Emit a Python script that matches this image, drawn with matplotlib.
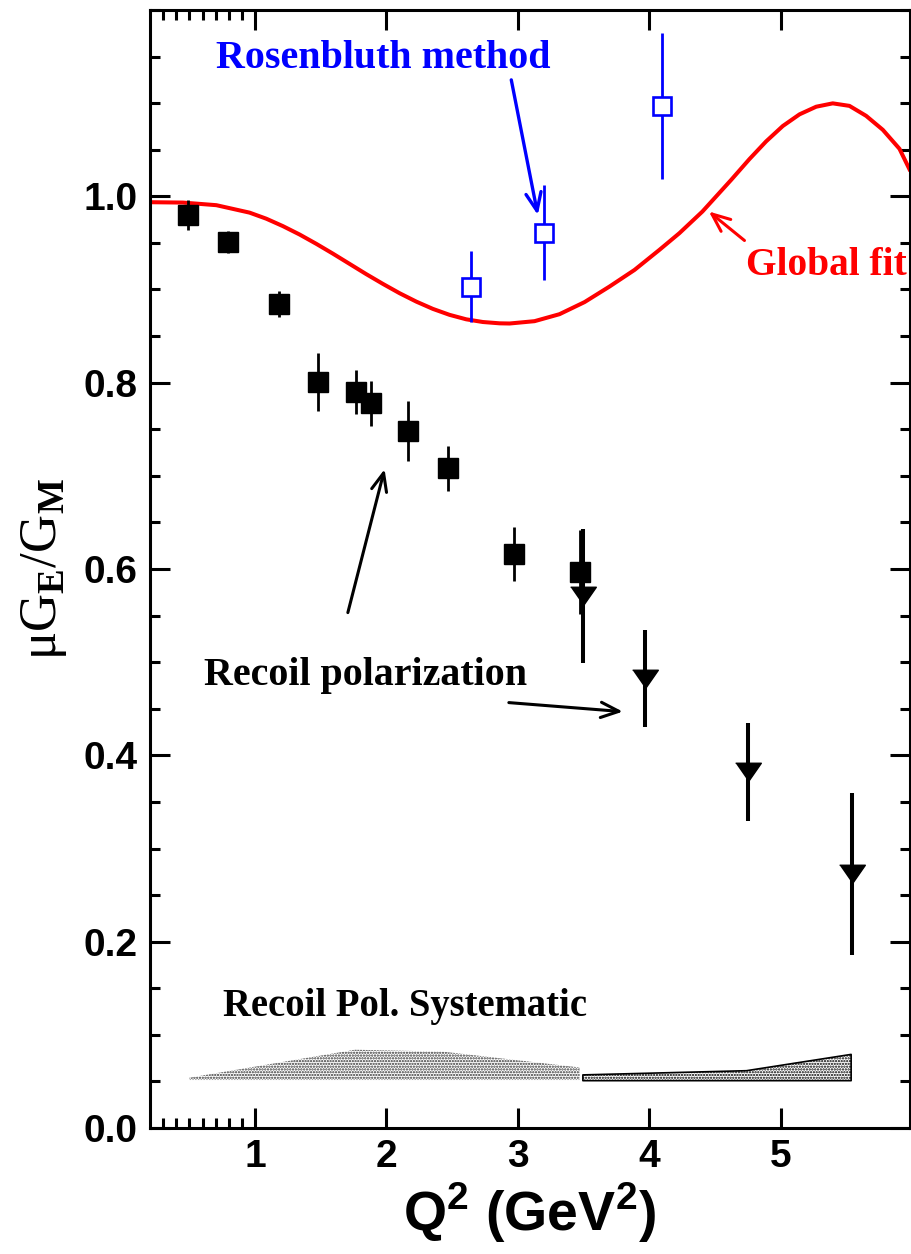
import numpy as np
import matplotlib
matplotlib.use("Agg")
import matplotlib.pyplot as plt
import matplotlib.ticker as mtick

#_________________________________________
# DATA
#_________________________________________
# recoil polarization, first set (filled squares)
rp_q2 = [0.49, 0.79, 1.18, 1.48, 1.765, 1.88, 2.165, 2.47, 2.97, 3.47]
rp_ratio = [0.980, 0.951, 0.884, 0.801, 0.790, 0.778, 0.748, 0.708, 0.616, 0.597]
rp_err = [0.016, 0.012, 0.014, 0.031, 0.024, 0.024, 0.032, 0.024, 0.029, 0.045]

# recoil polarization, second set (filled down triangles)
rp2_q2 = [3.495, 3.97, 4.75, 5.54]
rp2_ratio = [0.571, 0.482, 0.382, 0.273]
rp2_err = [0.072, 0.052, 0.053, 0.087]

# Rosenbluth points (open blue squares)
ros_q2 = [2.64, 3.20, 4.10]
ros_ratio = [0.903, 0.961, 1.097]
ros_err = [0.038, 0.051, 0.078]

# global fit curve
fit_q2 = [0.197, 0.451, 0.705, 0.958, 1.085, 1.212, 1.339, 1.466, 1.592, 1.719,
          1.846, 1.973, 2.100, 2.227, 2.353, 2.480, 2.607, 2.734, 2.861, 2.937,
          3.127, 3.317, 3.508, 3.698, 3.888, 4.078, 4.230, 4.405, 4.624, 4.763,
          4.890, 5.017, 5.144, 5.271, 5.397, 5.524, 5.651, 5.778, 5.905, 5.981]
fit_ratio = [0.9937, 0.9933, 0.9905, 0.9825, 0.9760, 0.9680, 0.9590, 0.9490, 0.9385,
             0.9275, 0.9165, 0.9060, 0.8960, 0.8870, 0.8792, 0.8728, 0.8680, 0.8651,
             0.8637, 0.8635, 0.8660, 0.8735, 0.8865, 0.9032, 0.9210, 0.9426, 0.9605,
             0.9837, 1.0177, 1.0400, 1.0590, 1.0755, 1.0880, 1.0962, 1.0998, 1.0971,
             1.0864, 1.0714, 1.0510, 1.0290]

# systematic error bands
sys1_q2 = [0.50, 1.76, 2.43, 3.47]
sys1_top = [0.054, 0.084, 0.082, 0.065]
sys1_bot = [0.0515, 0.0515, 0.0515, 0.0515]
sys2_q2 = [3.495, 4.74, 5.537]
sys2_top = [0.057, 0.0615, 0.079]
sys2_bot = [0.0508, 0.0508, 0.0508]

x_major = [1, 2, 3, 4, 5]
x_minor = [0.3, 0.4, 0.5, 0.6, 0.7, 0.8, 0.9]
y_major = [0.0, 0.2, 0.4, 0.6, 0.8, 1.0]

#_________________________________________
# STYLE
#_________________________________________
plt.rcParams["font.family"] = "Liberation Sans"
plt.rcParams["font.weight"] = "bold"
plt.rcParams["mathtext.fontset"] = "custom"
plt.rcParams["mathtext.rm"] = "Liberation Serif"
plt.rcParams["mathtext.bf"] = "Liberation Sans:bold"
plt.rcParams["hatch.linewidth"] = 1.1

fig = plt.figure(figsize=(9.11, 12.54), dpi=100)
ax = fig.add_axes([150/911, 126/1254, 760/911, 1118/1254])

# global fit
ax.plot(fit_q2, fit_ratio, color="red", lw=2.9, zorder=2, solid_joinstyle="round")

# systematic bands
ax.fill_between(sys1_q2, sys1_bot, sys1_top, facecolor="white", edgecolor="#333333",
                hatch="......", lw=0, zorder=1)
ax.fill_between(sys2_q2, sys2_bot, sys2_top, facecolor="white", edgecolor="black",
                hatch="......", lw=1.2, zorder=1)

# data
ax.errorbar(rp_q2, rp_ratio, yerr=rp_err, fmt="s", ms=15, color="black",
            elinewidth=2.0, capsize=0, zorder=4)
tri = [(-1, 0.72), (1, 0.72), (0, -0.72)]
ax.errorbar(rp2_q2, rp2_ratio, yerr=rp2_err, fmt="none", ecolor="black",
            elinewidth=2.9, capsize=0, zorder=4)
ax.plot(rp2_q2, rp2_ratio, ls="none", marker=tri, ms=18.5, color="black", zorder=5)
ax.errorbar(ros_q2, ros_ratio, yerr=ros_err, fmt="none", ecolor="blue",
            elinewidth=2.0, capsize=0, zorder=4)
ax.plot(ros_q2, ros_ratio, ls="none", marker="s", ms=12.5, mfc="white", mec="blue",
        mew=1.9, zorder=5)

# annotations
serif = dict(family="Liberation Serif", weight="bold")
head = "->,head_length=1.3,head_width=0.55"
ax.text(0.699, 1.1376, "Rosenbluth method", color="blue", fontsize=28.8, **serif)
ax.annotate("", xy=(3.152, 0.980), xytext=(2.950, 1.125),
            arrowprops=dict(arrowstyle=head, color="blue", lw=2.4, shrinkA=0, shrinkB=0))
ax.text(4.738, 0.9155, "Global fit", color="red", fontsize=28.4, **serif)
ax.annotate("", xy=(4.454, 0.9837), xytext=(4.725, 0.9526),
            arrowprops=dict(arrowstyle=head, color="red", lw=2.2, shrinkA=0, shrinkB=0))
ax.text(0.608, 0.4756, "Recoil polarization", color="black", fontsize=28.8, **serif)
ax.annotate("", xy=(1.9855, 0.7071), xytext=(1.706, 0.5532),
            arrowprops=dict(arrowstyle=head, color="black", lw=2.2, shrinkA=0, shrinkB=0))
ax.annotate("", xy=(3.799, 0.4469), xytext=(2.9315, 0.4566),
            arrowprops=dict(arrowstyle=head, color="black", lw=2.2, shrinkA=0, shrinkB=0))
ax.text(0.7527, 0.1202, "Recoil Pol. Systematic", color="black", fontsize=27.8, **serif)

# axes
ax.set_xlim(0.2, 5.985)
ax.set_ylim(0.0, 1.2)
ax.set_xticks(x_major)
ax.set_xticks(x_minor, minor=True)
ax.set_yticks(y_major)
ax.yaxis.set_minor_locator(mtick.MultipleLocator(0.05))
ax.xaxis.set_major_formatter(mtick.FormatStrFormatter("%d"))
ax.yaxis.set_major_formatter(mtick.FormatStrFormatter("%.1f"))
ax.tick_params(which="both", direction="in", top=True, right=True, width=2.2,
               labelsize=28, pad=9)
ax.tick_params(which="major", length=14.5)
ax.tick_params(which="minor", length=7.5)
ax.tick_params(axis="x", which="major", pad=8)
for s in ax.spines.values():
    s.set_linewidth(2.2)

ax.set_xlabel("Q$^\\mathbf{2}$ (GeV$^\\mathbf{2}$)", fontsize=40, fontweight="bold",
              labelpad=4)
ax.set_ylabel("μG$_\\mathrm{E}$/G$_\\mathrm{M}$", fontsize=38, family="Liberation Serif",
              fontweight="normal", labelpad=10)

plt.savefig("out.png", dpi=100)
